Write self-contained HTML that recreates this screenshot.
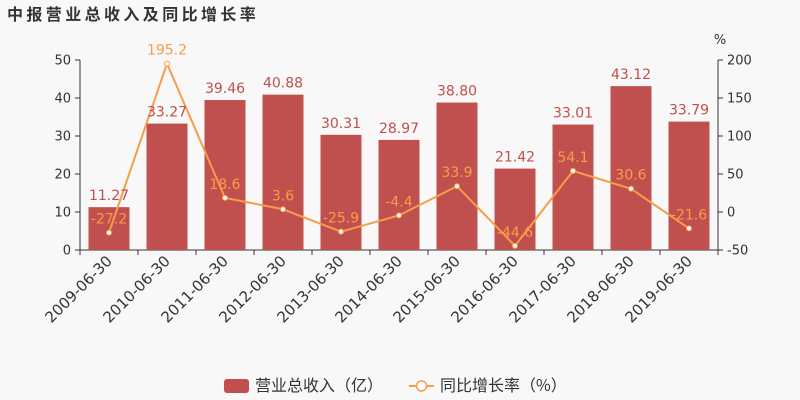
<!DOCTYPE html>
<html><head><meta charset="utf-8"><style>
body{margin:0;background:#f8f8f8;}
svg{display:block;font-family:"DejaVu Sans","Liberation Sans","Noto Sans CJK SC",sans-serif;}
</style></head><body>
<svg id="chart" width="800" height="400" viewBox="0 0 800 400">
<rect width="800" height="400" fill="#f8f8f8"/>
<text x="7" y="20" font-size="16" font-weight="bold" fill="#333" letter-spacing="3.4" font-family="'Noto Sans CJK SC',sans-serif">中报营业总收入及同比增长率</text>
<text x="720" y="44" font-size="13" fill="#333" text-anchor="middle">%</text>
<g id="axes"></g><g id="bars"></g><g id="line"></g><g id="labels"></g>
<g>
<g>
<rect x="224" y="379" width="25" height="14" rx="3" fill="#c0504d"/>
<text x="255" y="391" font-size="16" fill="#333" font-family="'Noto Sans CJK SC',sans-serif">营业总收入（亿）</text></g>
<g>
<line x1="409" y1="386" x2="434" y2="386" stroke="#f79c4a" stroke-width="2"/>
<circle cx="421.5" cy="386" r="5" fill="#fff" stroke="#f79c4a" stroke-width="1.5"/>
<text x="440" y="391" font-size="16" fill="#333" font-family="'Noto Sans CJK SC',sans-serif">同比增长率（%）</text></g>
</g>
</svg>
<script>
const categories=["2009-06-30","2010-06-30","2011-06-30","2012-06-30","2013-06-30","2014-06-30","2015-06-30","2016-06-30","2017-06-30","2018-06-30","2019-06-30"];
const revenue=[11.27,33.27,39.46,40.88,30.31,28.97,38.80,21.42,33.01,43.12,33.79];
const growth=[-27.2,195.2,18.6,3.6,-25.9,-4.4,33.9,-44.6,54.1,30.6,-21.6];
const leftTicks=[0,10,20,30,40,50];
const rightTicks=[-50,0,50,100,150,200];
const NS="http://www.w3.org/2000/svg";
const X0=80,X1=718,Y0=250,Y1=60;
const band=(X1-X0)/categories.length;
const xc=i=>X0+band*(i+0.5);
const yL=v=>Y0-(v-0)/(50-0)*(Y0-Y1);
const yR=v=>Y0-(v+50)/(250)*(Y0-Y1);
function mk(tag,attrs,parent,text){const e=document.createElementNS(NS,tag);for(const k in attrs)e.setAttribute(k,attrs[k]);if(text!==undefined)e.textContent=text;parent.appendChild(e);return e;}
const axes=document.getElementById('axes'),bars=document.getElementById('bars'),line=document.getElementById('line'),labels=document.getElementById('labels');
let e;
e=mk('line',{x1:X0,y1:Y1,x2:X0,y2:Y0,stroke:'#333'},axes);


e=mk('line',{x1:X1,y1:Y1,x2:X1,y2:Y0,stroke:'#333'},axes);


e=mk('line',{x1:X0,y1:Y0,x2:X1,y2:Y0,stroke:'#333'},axes);


leftTicks.forEach(t=>{const y=yL(t);mk('line',{x1:X0-5,y1:y,x2:X0,y2:y,stroke:'#333'},axes);
e=mk('text',{x:X0-9,y:y+4.5,'font-size':13,fill:'#333','text-anchor':'end'},axes,String(t));

});
rightTicks.forEach(t=>{const y=yR(t);mk('line',{x1:X1,y1:y,x2:X1+5,y2:y,stroke:'#333'},axes);
e=mk('text',{x:X1+9,y:y+4.5,'font-size':13,fill:'#333'},axes,String(t));

});
for(let i=0;i<=categories.length;i++){const x=X0+band*i;mk('line',{x1:x,y1:Y0,x2:x,y2:Y0+5,stroke:'#333'},axes);}
categories.forEach((c,i)=>{const x=xc(i)+4,y=Y0+12;
e=mk('text',{x:x,y:y,'font-size':15,fill:'#333','text-anchor':'end',transform:`rotate(-45 ${x} ${y})`},axes,c);

});
revenue.forEach((v,i)=>{const w=41;
e=mk('rect',{x:xc(i)-w/2,y:yL(v),width:w,height:Y0-yL(v),fill:'#c0504d'},bars);


e=mk('text',{x:xc(i),y:yL(v)-7,'font-size':14,fill:'#c0504d','text-anchor':'middle'},labels,v.toFixed(2));

});
e=mk('polyline',{points:growth.map((g,i)=>xc(i)+','+yR(g)).join(' '),fill:'none',stroke:'#f79c4a','stroke-width':2},line);


growth.forEach((g,i)=>{
e=mk('circle',{cx:xc(i),cy:yR(g),r:2.5,fill:'#fff',stroke:'#f79c4a','stroke-width':1},line);


e=mk('text',{x:xc(i),y:yR(g)-9,'font-size':14,fill:'#f79c4a','text-anchor':'middle'},labels,g.toFixed(1));

});
</script>
</body></html>
